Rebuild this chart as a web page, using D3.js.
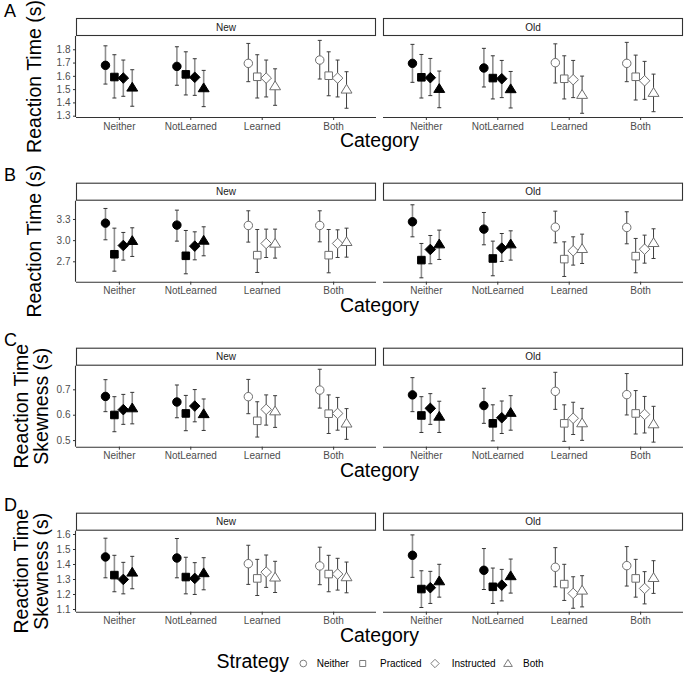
<!DOCTYPE html>
<html><head><meta charset="utf-8">
<script src="https://cdn.jsdelivr.net/npm/d3@7"></script>
<style>body{margin:0;background:#fff}svg{font-family:"Liberation Sans",Arial,sans-serif}</style>
</head><body><div id="chart"></div>
<script>
const categories = ["Neither","NotLearned","Learned","Both"];
const strategies = ["Neither","Practiced","Instructed","Both"];
const facets = ["New","Old"];
const panelLetters = ["A","B","C","D"];
const yTitles = [["Reaction Time (s)"],["Reaction Time (s)"],["Reaction Time","Skewness (s)"],["Reaction Time","Skewness (s)"]];
const yTicksA = [1.3,1.4,1.5,1.6,1.7,1.8];
const yTicksB = [2.7,3.0,3.3];
const yTicksC = [0.5,0.6,0.7];
const yTicksD = [1.1,1.2,1.3,1.4,1.5,1.6];
const yDomainA = [1.29,1.90], yDomainB = [2.411,3.559], yDomainC = [0.474,0.793], yDomainD = [1.082,1.622];

// rows = category, columns = strategy
const aNewMean = [[1.679,1.591,1.583,1.513],[1.671,1.611,1.589,1.508],[1.694,1.593,1.583,1.523],[1.719,1.601,1.583,1.498]];
const aNewLo   = [[1.538,1.433,1.446,1.371],[1.529,1.456,1.453,1.368],[1.556,1.433,1.441,1.378],[1.576,1.450,1.441,1.356]];
const aNewHi   = [[1.826,1.759,1.719,1.646],[1.819,1.781,1.729,1.641],[1.844,1.759,1.719,1.653],[1.867,1.781,1.719,1.631]];
const aOldMean = [[1.694,1.589,1.586,1.503],[1.659,1.583,1.578,1.501],[1.699,1.578,1.571,1.458],[1.694,1.593,1.563,1.473]];
const aOldLo   = [[1.551,1.433,1.451,1.360],[1.516,1.426,1.436,1.358],[1.546,1.426,1.436,1.318],[1.556,1.418,1.423,1.330]];
const aOldHi   = [[1.837,1.761,1.731,1.636],[1.807,1.751,1.716,1.633],[1.841,1.751,1.716,1.598],[1.852,1.756,1.709,1.613]];

const bNewMean = [[3.241,2.800,2.924,2.991],[3.213,2.778,2.915,2.995],[3.208,2.787,2.953,2.953],[3.208,2.787,2.953,2.976]];
const bNewLo   = [[3.005,2.560,2.717,2.769],[2.986,2.523,2.721,2.778],[2.972,2.542,2.754,2.745],[2.976,2.537,2.754,2.759]];
const bNewHi   = [[3.449,3.170,3.109,3.175],[3.425,3.137,3.118,3.189],[3.416,3.151,3.156,3.156],[3.416,3.151,3.146,3.170]];
const bOldMean = [[3.260,2.717,2.868,2.943],[3.156,2.740,2.887,2.943],[3.184,2.731,2.849,2.877],[3.180,2.773,2.872,2.962]];
const bOldLo   = [[3.047,2.466,2.665,2.726],[2.934,2.495,2.698,2.717],[2.962,2.485,2.646,2.669],[2.948,2.537,2.674,2.740]];
const bOldHi   = [[3.501,2.953,3.066,3.142],[3.392,2.986,3.094,3.132],[3.411,2.976,3.047,3.085],[3.402,3.024,3.071,3.161]];

const cNewMean = [[0.672,0.599,0.620,0.626],[0.650,0.605,0.634,0.603],[0.671,0.576,0.621,0.614],[0.697,0.604,0.605,0.566]];
const cNewLo   = [[0.612,0.533,0.562,0.564],[0.588,0.537,0.572,0.538],[0.604,0.512,0.559,0.550],[0.626,0.526,0.539,0.503]];
const cNewHi   = [[0.738,0.671,0.680,0.688],[0.717,0.676,0.699,0.662],[0.739,0.651,0.678,0.675],[0.779,0.678,0.668,0.624]];
const cOldMean = [[0.678,0.597,0.625,0.593],[0.636,0.566,0.588,0.608],[0.692,0.566,0.586,0.567],[0.679,0.605,0.601,0.563]];
const cOldLo   = [[0.612,0.530,0.562,0.530],[0.566,0.497,0.526,0.539],[0.621,0.495,0.522,0.499],[0.599,0.524,0.528,0.492]];
const cOldHi   = [[0.746,0.671,0.683,0.653],[0.704,0.639,0.654,0.675],[0.767,0.639,0.649,0.625],[0.762,0.695,0.672,0.633]];

const dNewMean = [[1.447,1.326,1.297,1.344],[1.440,1.313,1.304,1.340],[1.402,1.304,1.346,1.311],[1.387,1.333,1.333,1.313]];
const dNewLo   = [[1.308,1.215,1.201,1.235],[1.308,1.201,1.197,1.228],[1.264,1.190,1.244,1.210],[1.262,1.215,1.226,1.208]];
const dNewHi   = [[1.572,1.458,1.411,1.451],[1.570,1.445,1.409,1.442],[1.525,1.431,1.460,1.418],[1.512,1.458,1.438,1.413]];
const dOldMean = [[1.458,1.233,1.242,1.286],[1.358,1.248,1.259,1.320],[1.378,1.266,1.204,1.224],[1.389,1.304,1.237,1.308]];
const dOldLo   = [[1.311,1.110,1.137,1.179],[1.230,1.137,1.154,1.206],[1.248,1.157,1.105,1.114],[1.253,1.179,1.134,1.204]];
const dOldHi   = [[1.594,1.355,1.351,1.398],[1.503,1.373,1.364,1.433],[1.509,1.398,1.315,1.322],[1.516,1.431,1.349,1.422]];

const panels = [
  {letter:"A", ticks:yTicksA, domain:yDomainA, data:[[aNewMean,aNewLo,aNewHi],[aOldMean,aOldLo,aOldHi]], fmt:".1f"},
  {letter:"B", ticks:yTicksB, domain:yDomainB, data:[[bNewMean,bNewLo,bNewHi],[bOldMean,bOldLo,bOldHi]], fmt:".1f"},
  {letter:"C", ticks:yTicksC, domain:yDomainC, data:[[cNewMean,cNewLo,cNewHi],[cOldMean,cOldLo,cOldHi]], fmt:".1f"},
  {letter:"D", ticks:yTicksD, domain:yDomainD, data:[[dNewMean,dNewLo,dNewHi],[dOldMean,dOldLo,dOldHi]], fmt:".1f"}
];

const W = 685, H = 674;
const svg = d3.select("#chart").append("svg").attr("width", W).attr("height", H);

const stripTops = [18, 182.7, 347.7, 512.7];
const stripH = 18;
const plotH = 81;
const facetX = [[76,376],[383,683]];
const axisCol = "#333333";

function shapePath(kind, cx, cy, s) {
  const p = d3.path();
  if (kind === 0) { p.arc(cx, cy, s*0.48, 0, 2*Math.PI); }
  else if (kind === 1) { const h = s*0.43; p.rect(cx-h, cy-h, 2*h, 2*h); }
  else if (kind === 2) { const h = s*0.6; p.moveTo(cx, cy-h); p.lineTo(cx+h, cy); p.lineTo(cx, cy+h); p.lineTo(cx-h, cy); p.closePath(); }
  else { const w = s*0.62, t = s*0.58, b = s*0.42; p.moveTo(cx, cy-t); p.lineTo(cx+w, cy+b); p.lineTo(cx-w, cy+b); p.closePath(); }
  return p.toString();
}

const dodge = d3.scalePoint().domain(strategies).range([-0.1875, 0.1875]);

panels.forEach((pn, pi) => {
  const st = stripTops[pi];
  const top = st + stripH, bottom = top + plotH;
  const y = d3.scaleLinear().domain(pn.domain).range([bottom, top]);
  const g = svg.append("g");

  g.append("text").attr("x", 4).attr("y", st - 1.5).attr("font-size", 18).attr("fill", "#000").text(pn.letter);

  const lines = yTitles[pi];
  const cy = (st + bottom) / 2 + 9;
  const yt = g.append("text").attr("transform", `translate(${lines.length === 1 ? 41 : 37},${cy}) rotate(-90)`)
    .attr("text-anchor", "middle").attr("font-size", 19.5).attr("fill", "#000");
  lines.forEach((l, i) => {
    yt.append("tspan").attr("x", 0).attr("dy", i === 0 ? (lines.length === 1 ? 0 : -9) : 19.5).text(l);
  });

  facets.forEach((fc, fi) => {
    const [x0, x1] = facetX[fi];
    const x = d3.scalePoint().domain(categories).range([x0, x1]).padding(0.6);
    const step = x.step();

    g.append("rect").attr("x", x0 + 0.5).attr("y", st + 0.5).attr("width", x1 - x0 - 1).attr("height", stripH - 1)
      .attr("fill", "#fff").attr("stroke", axisCol).attr("stroke-width", 1.1);
    g.append("text").attr("x", (x0 + x1) / 2).attr("y", st + stripH / 2 + 3.5).attr("text-anchor", "middle")
      .attr("font-size", 10).attr("fill", "#1a1a1a").text(fc);

    const xa = g.append("g").attr("transform", `translate(0,${bottom})`).call(d3.axisBottom(x).tickSize(3).tickPadding(2.5));
    xa.select(".domain").attr("stroke", axisCol).attr("stroke-width", 1.1).attr("d", `M${x0},0.5H${x1}`);
    xa.selectAll(".tick line").attr("stroke", axisCol);
    xa.selectAll(".tick text").attr("font-size", 10).attr("fill", "#4d4d4d").attr("font-family", '"Liberation Sans",Arial,sans-serif');

    if (fi === 0) {
      const ya = g.append("g").attr("transform", `translate(${x0},0)`)
        .call(d3.axisLeft(y).tickValues(pn.ticks).tickFormat(d3.format(pn.fmt)).tickSize(3).tickPadding(2.5));
      ya.select(".domain").attr("stroke", axisCol).attr("stroke-width", 1.1).attr("d", `M-0.5,${top}V${bottom}`);
      ya.selectAll(".tick line").attr("stroke", axisCol);
      ya.selectAll(".tick text").attr("font-size", 10).attr("fill", "#4d4d4d").attr("font-family", '"Liberation Sans",Arial,sans-serif');
    }

    const [mean, lo, hi] = pn.data[fi];
    categories.forEach((cat, ci) => {
      const filled = ci < 2;
      const ebCol = filled ? "#8f8f8f" : "#3d3d3d";
      const ebW = filled ? 1.6 : 1.0;
      strategies.forEach((sname, si) => {
        const cx = x(cat) + dodge(sname) * step;
        const capH = 2;
        g.append("line").attr("x1", cx).attr("x2", cx).attr("y1", y(lo[ci][si])).attr("y2", y(hi[ci][si]))
          .attr("stroke", ebCol).attr("stroke-width", ebW);
        [lo[ci][si], hi[ci][si]].forEach(v => {
          g.append("line").attr("x1", cx - capH).attr("x2", cx + capH).attr("y1", y(v)).attr("y2", y(v))
            .attr("stroke", filled ? "#333" : "#3d3d3d").attr("stroke-width", 1);
        });
      });
      strategies.forEach((sname, si) => {
        const cx = x(cat) + dodge(sname) * step;
        g.append("path").attr("d", shapePath(si, cx, y(mean[ci][si]), 8.8))
          .attr("fill", filled ? "#000" : "#fff").attr("stroke", filled ? "#000" : "#6e6e6e").attr("stroke-width", 1);
      });
    });
  });

  g.append("text").attr("x", (facetX[0][0] + facetX[1][1]) / 2).attr("y", bottom + 30).attr("text-anchor", "middle")
    .attr("font-size", 19.5).attr("fill", "#000").text("Category");
});

const lg = svg.append("g");
lg.append("text").attr("x", 216.5).attr("y", 667.5).attr("font-size", 19.5).attr("fill", "#000").text("Strategy");
const legX = [303.3, 362.7, 435, 508];
const legTextX = [316.7, 380, 451.7, 523];
strategies.forEach((s, i) => {
  lg.append("path").attr("d", shapePath(i, legX[i], 663.5, 7)).attr("fill", "#fff").attr("stroke", "#6e6e6e").attr("stroke-width", 0.9);
  lg.append("text").attr("x", legTextX[i]).attr("y", 667.3).attr("font-size", 10).attr("fill", "#000").text(s);
});
</script></body></html>
